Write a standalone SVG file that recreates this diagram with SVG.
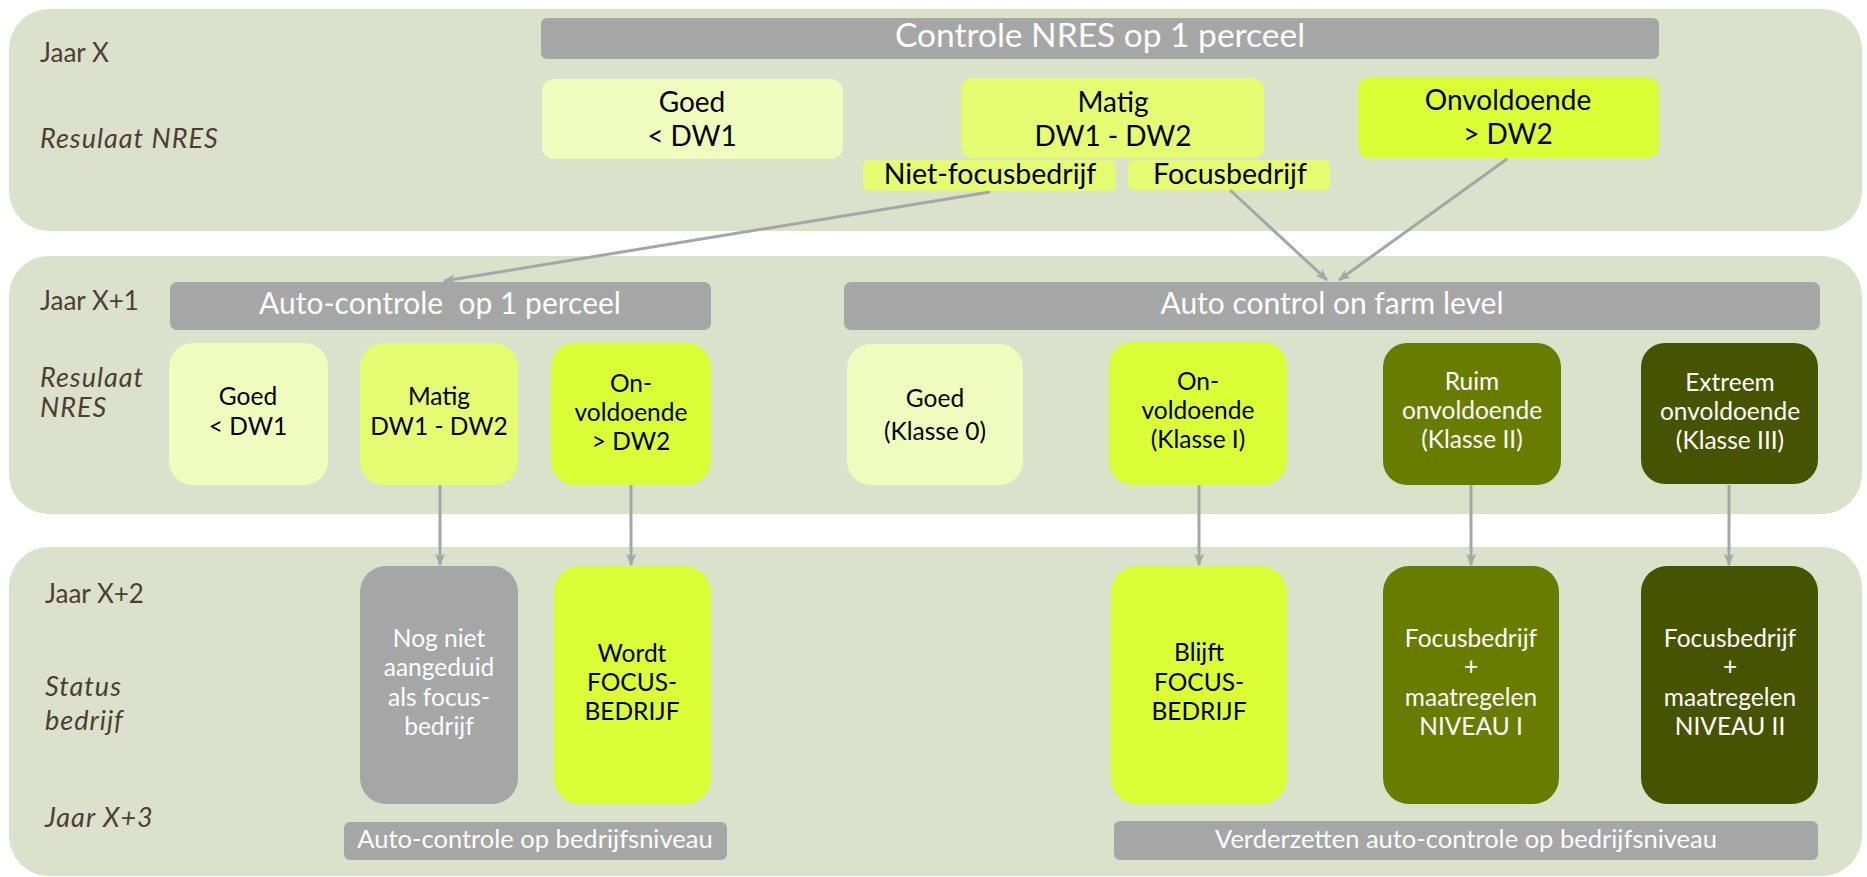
<svg xmlns="http://www.w3.org/2000/svg" width="1867" height="877" viewBox="0 0 1867 877">
<defs>
<style>
text{font-family:Lato,"Open Sans","Liberation Sans",sans-serif;text-anchor:middle}
.panel{fill:#dbe1cb}
.hdr{fill:#a6a6a6}
.lbl{fill:#4b3f33;font-size:26px;text-anchor:start}
.it{font-style:italic;font-size:27px;letter-spacing:1px}
.w{fill:#ffffff}
.k{fill:#000000}
.h1{font-size:33.5px}
.h2{font-size:30px}
.b1{font-size:28px}
.b2{font-size:24.5px}
.tag{font-size:28.5px}
.bar{font-size:25.5px}
.c-goed{fill:#f0fcbd}
.c-matig{fill:#e5fb72}
.c-onv{fill:#dafd36}
.c-ruim{fill:#687c00}
.c-ext{fill:#465300}
.c-gray{fill:#a6a6a6}
.conn{stroke:#a6a6a6;stroke-width:3;fill:none;marker-end:url(#ah)}
</style>
<marker id="ah" viewBox="0 0 12 10" refX="11" refY="5" markerWidth="12" markerHeight="10" markerUnits="userSpaceOnUse" orient="auto">
<path d="M0,0 L12,5 L0,10 L3,5 Z" fill="#a6a6a6"/>
</marker>
</defs>

<g id="panels">
<rect class="panel" x="9" y="9" width="1853" height="222" rx="40"/>
<rect class="panel" x="9" y="256" width="1853" height="258" rx="40"/>
<rect class="panel" x="9" y="547" width="1853" height="329" rx="40"/>
</g>

<g id="labels">
<text class="lbl" x="40" y="62">Jaar X</text>
<text class="lbl it" x="40" y="148">Resulaat NRES</text>
<text class="lbl" x="40" y="310">Jaar X+1</text>
<text class="lbl it" x="40" y="387">Resulaat</text>
<text class="lbl it" x="40" y="417">NRES</text>
<text class="lbl" x="45" y="603">Jaar X+2</text>
<text class="lbl it" x="45" y="696">Status</text>
<text class="lbl it" x="45" y="730">bedrijf</text>
<text class="lbl it" x="45" y="827">Jaar X+3</text>
</g>

<g id="hdr-controle">
<rect class="hdr" x="541" y="18" width="1118" height="41" rx="6"/>
<text class="w h1" x="1100" y="47">Controle NRES op 1 perceel</text>
</g>

<g id="x-goed">
<rect class="c-goed" x="542" y="79" width="301" height="80" rx="12"/>
<text class="k b1" x="692" y="112">Goed</text>
<text class="k b1" x="692" y="146">&lt; DW1</text>
</g>
<g id="x-matig">
<rect class="c-matig" x="961" y="78" width="303" height="80" rx="12"/>
<text class="k b1" x="1113" y="112">Matig</text>
<text class="k b1" x="1113" y="146">DW1 - DW2</text>
</g>
<g id="x-onv">
<rect class="c-onv" x="1358" y="77" width="301" height="81" rx="12"/>
<text class="k b1" x="1508" y="110">Onvoldoende</text>
<text class="k b1" x="1508" y="144">&gt; DW2</text>
</g>
<g id="tag-niet">
<rect class="c-matig" x="863" y="160" width="253" height="31" rx="6"/>
<text class="k tag" x="990" y="184">Niet-focusbedrijf</text>
</g>
<g id="tag-focus">
<rect class="c-matig" x="1128" y="160" width="202" height="30" rx="6"/>
<text class="k tag" x="1230" y="184">Focusbedrijf</text>
</g>

<g id="hdr-auto-perceel">
<rect class="hdr" x="170" y="282" width="541" height="48" rx="7"/>
<text class="w h2" x="440" y="314" xml:space="preserve">Auto-controle  op 1 perceel</text>
</g>
<g id="hdr-auto-farm">
<rect class="hdr" x="844" y="282" width="976" height="48" rx="7"/>
<text class="w h2" x="1332" y="314">Auto control on farm level</text>
</g>

<g id="p-goed">
<rect class="c-goed" x="169" y="343" width="159" height="142" rx="24"/>
<text class="k b2" x="248" y="405">Goed</text>
<text class="k b2" x="248" y="435">&lt; DW1</text>
</g>
<g id="p-matig">
<rect class="c-matig" x="360" y="343" width="158" height="142" rx="24"/>
<text class="k b2" x="439" y="405">Matig</text>
<text class="k b2" x="439" y="435">DW1 - DW2</text>
</g>
<g id="p-onv">
<rect class="c-onv" x="551" y="343" width="160" height="142" rx="24"/>
<text class="k b2" x="631" y="392">On-</text>
<text class="k b2" x="631" y="421">voldoende</text>
<text class="k b2" x="631" y="450">&gt; DW2</text>
</g>

<g id="f-goed">
<rect class="c-goed" x="847" y="344" width="176" height="141" rx="24"/>
<text class="k b2" x="935" y="407">Goed</text>
<text class="k b2" x="935" y="440">(Klasse 0)</text>
</g>
<g id="f-k1">
<rect class="c-onv" x="1109" y="342" width="178" height="143" rx="24"/>
<text class="k b2" x="1198" y="390">On-</text>
<text class="k b2" x="1198" y="419">voldoende</text>
<text class="k b2" x="1198" y="448">(Klasse I)</text>
</g>
<g id="f-k2">
<rect class="c-ruim" x="1383" y="343" width="178" height="142" rx="24"/>
<text class="w b2" x="1472" y="390">Ruim</text>
<text class="w b2" x="1472" y="419">onvoldoende</text>
<text class="w b2" x="1472" y="448">(Klasse II)</text>
</g>
<g id="f-k3">
<rect class="c-ext" x="1641" y="343" width="177" height="141" rx="24"/>
<text class="w b2" x="1730" y="391">Extreem</text>
<text class="w b2" x="1730" y="420">onvoldoende</text>
<text class="w b2" x="1730" y="449">(Klasse III)</text>
</g>

<g id="s-nog">
<rect class="c-gray" x="360" y="566" width="158" height="238" rx="26"/>
<text class="w b2" x="439" y="647">Nog niet</text>
<text class="w b2" x="439" y="676">aangeduid</text>
<text class="w b2" x="439" y="706">als focus-</text>
<text class="w b2" x="439" y="735">bedrijf</text>
</g>
<g id="s-wordt">
<rect class="c-onv" x="554" y="566" width="157" height="238" rx="26"/>
<text class="k b2" x="632" y="662">Wordt</text>
<text class="k b2" x="632" y="691">FOCUS-</text>
<text class="k b2" x="632" y="720">BEDRIJF</text>
</g>
<g id="s-blijft">
<rect class="c-onv" x="1111" y="566" width="176" height="238" rx="26"/>
<text class="k b2" x="1199" y="661">Blijft</text>
<text class="k b2" x="1199" y="691">FOCUS-</text>
<text class="k b2" x="1199" y="720">BEDRIJF</text>
</g>
<g id="s-niv1">
<rect class="c-ruim" x="1383" y="566" width="176" height="238" rx="26"/>
<text class="w b2" x="1471" y="647">Focusbedrijf</text>
<text class="w b2" x="1471" y="675">+</text>
<text class="w b2" x="1471" y="706">maatregelen</text>
<text class="w b2" x="1471" y="735">NIVEAU I</text>
</g>
<g id="s-niv2">
<rect class="c-ext" x="1641" y="566" width="177" height="238" rx="26"/>
<text class="w b2" x="1730" y="647">Focusbedrijf</text>
<text class="w b2" x="1730" y="675">+</text>
<text class="w b2" x="1730" y="706">maatregelen</text>
<text class="w b2" x="1730" y="735">NIVEAU II</text>
</g>

<g id="bar-left">
<rect class="hdr" x="344" y="822" width="383" height="38" rx="6"/>
<text class="w bar" x="535" y="848">Auto-controle op bedrijfsniveau</text>
</g>
<g id="bar-right">
<rect class="hdr" x="1114" y="821" width="704" height="39" rx="6"/>
<text class="w bar" x="1466" y="848">Verderzetten auto-controle op bedrijfsniveau</text>
</g>

<g id="connectors">
<line class="conn" x1="990" y1="192" x2="444" y2="281"/>
<line class="conn" x1="1230" y1="190" x2="1327" y2="280"/>
<line class="conn" x1="1507" y1="159" x2="1339" y2="280"/>
<line class="conn" x1="440" y1="485" x2="440" y2="565"/>
<line class="conn" x1="631" y1="485" x2="631" y2="565"/>
<line class="conn" x1="1199" y1="485" x2="1199" y2="565"/>
<line class="conn" x1="1471" y1="485" x2="1471" y2="565"/>
<line class="conn" x1="1729" y1="485" x2="1729" y2="565"/>
</g>
</svg>
